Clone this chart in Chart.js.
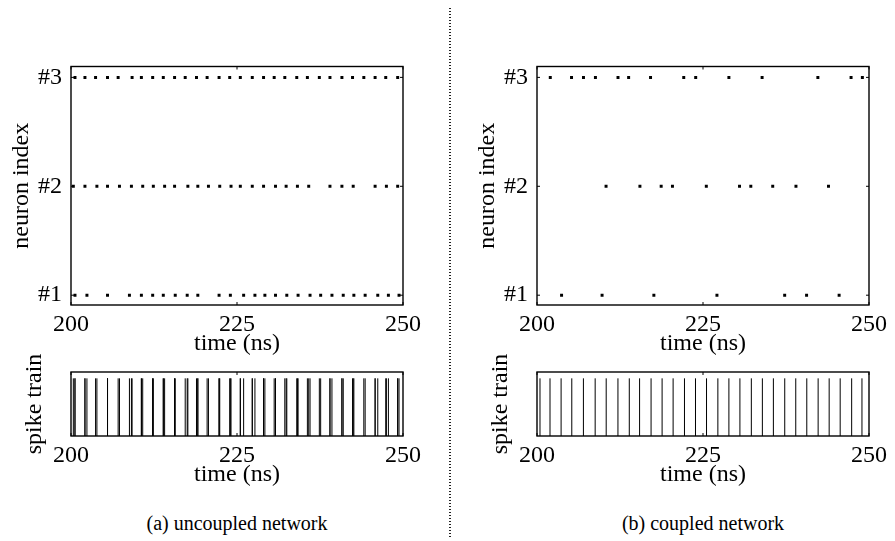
<!DOCTYPE html>
<html><head><meta charset="utf-8">
<script src="https://cdn.jsdelivr.net/npm/chart.js@4.4.1/dist/chart.umd.min.js"></script>
<style>
html,body{margin:0;padding:0;background:#fff;}
#wrap{position:relative;width:895px;height:541px;overflow:hidden;background:#fff;}
canvas{position:absolute;}
.cap{position:absolute;font-family:'Liberation Serif','Times New Roman',serif;font-size:20px;line-height:24px;color:#000;white-space:nowrap;transform:translateX(-50%);}
#divider{position:absolute;left:449px;top:8px;width:2px;height:531px;background:repeating-linear-gradient(to bottom,#222 0px,#222 1.5px,transparent 1.5px,transparent 3px);}
</style></head><body>
<div id="wrap">
  <canvas id="c1" width="429" height="360" style="left:0;top:0"></canvas>
  <canvas id="c2" width="429" height="360" style="left:466px;top:0"></canvas>
  <canvas id="c3" width="429" height="170" style="left:0;top:330px"></canvas>
  <canvas id="c4" width="429" height="170" style="left:466px;top:330px"></canvas>
  <div id="divider"></div>
  <div class="cap" style="left:237px;top:511px">(a) uncoupled network</div>
  <div class="cap" style="left:703px;top:511px">(b) coupled network</div>
</div>
<script>
// ---- data (spike times in ns) ----
const xTickValues = [200, 225, 250];
const yTickValues = [1, 2, 3];
const yTickLabels = ['#1', '#2', '#3'];

// uncoupled network
const uncoupledN1 = [200.6, 202.4, 205.5, 208.8, 210.6, 212.3, 213.9, 215.7, 217.5, 219.1, 222.3, 224.0, 226.0, 227.7, 229.2, 230.8, 232.5, 234.2, 236.0, 237.6, 239.3, 241.0, 242.6, 244.3, 246.2, 247.8, 249.4];
const uncoupledN2 = [200.35, 202.1, 203.9, 205.5, 207.3, 209.1, 210.8, 212.4, 214.1, 215.6, 217.6, 219.1, 220.7, 222.4, 224.1, 225.5, 227.3, 229.0, 230.8, 232.4, 234.1, 235.8, 239.0, 240.8, 242.5, 245.8, 247.5, 249.2];
const uncoupledN3 = [200.6, 202.1, 203.7, 205.5, 207.1, 209.2, 210.6, 212.3, 213.9, 215.6, 217.2, 218.9, 220.5, 222.3, 223.9, 225.5, 227.3, 229.0, 230.6, 232.2, 234.0, 235.6, 237.4, 239.0, 240.8, 242.4, 244.1, 245.8, 247.4, 249.2];
const uncoupledTrain = [].concat(uncoupledN1, uncoupledN2, uncoupledN3).sort((a, b) => a - b);

// coupled network
const coupledN1 = [203.7, 209.8, 217.6, 227.1, 237.3, 240.6, 245.5];
const coupledN2 = [210.4, 215.5, 218.7, 220.4, 225.5, 230.5, 232.2, 235.5, 239.0, 243.9];
const coupledN3 = [202.0, 205.2, 207.0, 208.8, 212.2, 213.8, 217.1, 222.1, 223.9, 228.9, 233.9, 242.3, 247.3, 249.0];
const coupledTrain = [200.45, 201.96, 203.63, 205.24, 206.99, 208.76, 210.42, 212.19, 213.90, 215.45, 217.18, 218.84, 220.50, 222.21, 223.87, 225.53, 227.24, 228.90, 230.56, 232.28, 233.94, 235.60, 237.31, 238.97, 240.63, 242.34, 244.00, 245.66, 247.39, 248.94];

// ---- styling ----
const FONT = {family: "'Liberation Serif','Times New Roman',serif", size: 24};
const INK = '#000';

const framePlugin = {
  id: 'frame',
  afterDraw(chart, args, opts) {
    const {ctx, chartArea: a, scales} = chart;
    ctx.save();
    ctx.strokeStyle = INK;
    ctx.lineWidth = 1;
    const L = 3;
    ctx.beginPath();
    scales.x.ticks.forEach(t => {
      const x = scales.x.getPixelForValue(t.value);
      ctx.moveTo(x, a.bottom); ctx.lineTo(x, a.bottom - L);
      ctx.moveTo(x, a.top); ctx.lineTo(x, a.top + L);
    });
    if (opts.yTicks) {
      scales.y.ticks.forEach(t => {
        const y = scales.y.getPixelForValue(t.value);
        ctx.moveTo(a.left, y); ctx.lineTo(a.left + L, y);
        ctx.moveTo(a.right, y); ctx.lineTo(a.right - L, y);
      });
    }
    ctx.stroke();
    ctx.lineWidth = 1.4;
    ctx.strokeRect(a.left, a.top, a.right - a.left, a.bottom - a.top);
    ctx.restore();
  }
};

function xScale(height, titlePadBottom) {
  return {
    type: 'linear', min: 200, max: 250,
    afterBuildTicks: s => { s.ticks = xTickValues.map(v => ({value: v})); },
    afterFit: s => { s.height = height; },
    grid: {display: false, drawTicks: false},
    border: {display: false},
    ticks: {font: FONT, color: INK, padding: 5, maxRotation: 0, minRotation: 0, autoSkip: false,
            callback: v => String(v)},
    title: {display: true, text: 'time (ns)', font: FONT, color: INK, padding: {top: 0, bottom: titlePadBottom}}
  };
}

function dots(times, row) {
  return {
    data: times.map(t => ({x: t, y: row})),
    pointStyle: 'rect', pointRadius: 2.1, pointBackgroundColor: INK, pointBorderWidth: 0, showLine: false
  };
}

function rasterConfig(n1, n2, n3) {
  return {
    type: 'scatter',
    data: {datasets: [dots(n1, 1), dots(n2, 2), dots(n3, 3)]},
    options: {
      responsive: false, animation: false, devicePixelRatio: 1,
      layout: {padding: {top: 66.5, right: 26, left: 0, bottom: 0}},
      plugins: {legend: {display: false}, tooltip: {enabled: false}, frame: {yTicks: true}},
      scales: {
        x: xScale(55, 1.6),
        y: {
          type: 'linear', min: 0.91, max: 3.1,
          afterBuildTicks: s => { s.ticks = yTickValues.map(v => ({value: v})); },
          afterFit: s => { s.width = 71; },
          grid: {display: false, drawTicks: false},
          border: {display: false},
          ticks: {font: FONT, color: INK, padding: 9, callback: (v, i) => yTickLabels[i]},
          title: {display: true, text: 'neuron index', font: FONT, color: INK, padding: {top: 7.6, bottom: 0}}
        }
      }
    },
    plugins: [framePlugin]
  };
}

function trainConfig(times) {
  const pts = [];
  times.forEach(t => { pts.push({x: t, y: 0}, {x: t, y: 1}, {x: t, y: null}); });
  return {
    type: 'scatter',
    data: {datasets: [{data: pts, showLine: true, spanGaps: false, pointRadius: 0,
                       borderColor: INK, borderWidth: 1}]},
    options: {
      responsive: false, animation: false, devicePixelRatio: 1,
      layout: {padding: {top: 42, right: 26, left: 0, bottom: 0}},
      plugins: {legend: {display: false}, tooltip: {enabled: false}, frame: {yTicks: false}},
      scales: {
        x: xScale(64, 10.6),
        y: {
          type: 'linear', min: 0, max: 1.11,
          afterFit: s => { s.width = 71; },
          grid: {display: false, drawTicks: false},
          border: {display: false},
          ticks: {display: false},
          title: {display: true, text: 'spike train', font: FONT, color: INK, padding: {top: 20.6, bottom: 0}}
        }
      }
    },
    plugins: [framePlugin]
  };
}

new Chart(document.getElementById('c1'), rasterConfig(uncoupledN1, uncoupledN2, uncoupledN3));
new Chart(document.getElementById('c2'), rasterConfig(coupledN1, coupledN2, coupledN3));
new Chart(document.getElementById('c3'), trainConfig(uncoupledTrain));
new Chart(document.getElementById('c4'), trainConfig(coupledTrain));
</script>
</body></html>
